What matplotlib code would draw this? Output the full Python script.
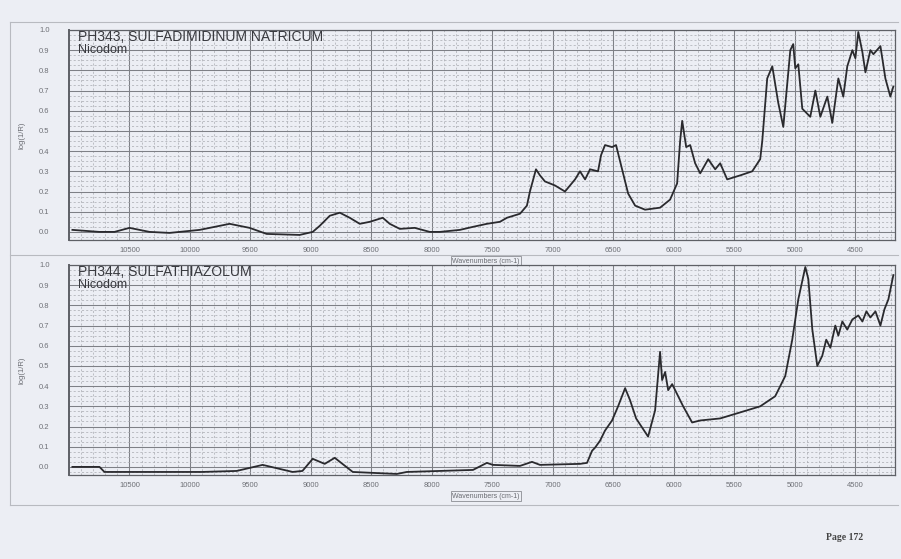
import matplotlib
matplotlib.use('Agg')
import matplotlib.pyplot as plt
from matplotlib.ticker import MultipleLocator

# Spektrum 1: PH343, Sulfadimidinum natricum (wavenumber cm-1, log(1/R))
wn_top = [10972, 10750, 10624, 10500, 10334, 10169, 9920, 9672, 9507, 9366,
          9093, 8985, 8927, 8844, 8761, 8679, 8596, 8513, 8406, 8348,
          8265, 8141, 8017, 7934, 7768, 7660, 7545, 7437, 7379, 7271,
          7214, 7189, 7139, 7106, 7065, 6982, 6899, 6816, 6775, 6733,
          6692, 6626, 6601, 6568, 6510, 6477, 6427, 6377, 6319, 6237,
          6113, 6030, 5972, 5947, 5930, 5897, 5864, 5823, 5781, 5715,
          5657, 5616, 5558, 5450, 5351, 5285, 5268, 5227, 5185, 5136,
          5094, 5036, 5012, 4995, 4970, 4937, 4871, 4829, 4788, 4730,
          4689, 4639, 4598, 4565, 4523, 4498, 4474, 4440, 4415, 4374,
          4349, 4291, 4250, 4209, 4184]
val_top = [0.01, 0.0, 0.0, 0.02, 0.0, -0.005, 0.01, 0.04, 0.02, -0.01,
           -0.015, 0.0, 0.03, 0.08, 0.095, 0.07, 0.04, 0.05, 0.07, 0.04,
           0.015, 0.02, 0.0, 0.0, 0.01, 0.025, 0.04, 0.05, 0.07, 0.09,
           0.13, 0.2, 0.31, 0.28, 0.25, 0.23, 0.2, 0.26, 0.3, 0.26,
           0.31, 0.3, 0.38, 0.43, 0.42, 0.43, 0.31, 0.19, 0.13, 0.11,
           0.12, 0.16, 0.24, 0.45, 0.55, 0.42, 0.43, 0.34, 0.29, 0.36,
           0.31, 0.34, 0.26, 0.28, 0.3, 0.36, 0.45, 0.76, 0.82, 0.64,
           0.52, 0.9, 0.93, 0.81, 0.83, 0.61, 0.57, 0.70, 0.57, 0.67,
           0.54, 0.76, 0.67, 0.82, 0.90, 0.86, 0.99, 0.89, 0.79, 0.90,
           0.88, 0.92, 0.76, 0.67, 0.72]

# Spektrum 2: PH344, Sulfathiazolum
wn_bot = [10972, 10748, 10707, 10300, 9900, 9614, 9399, 9151, 9070, 8985,
          8886, 8803, 8654, 8290, 8207, 7660, 7545, 7495, 7271, 7172,
          7106, 6775, 6717, 6675, 6651, 6609, 6568, 6510, 6460, 6402,
          6361, 6311, 6212, 6154, 6113, 6096, 6071, 6046, 6013, 5922,
          5848, 5781, 5616, 5450, 5285, 5161, 5078, 5020, 4970, 4912,
          4887, 4854, 4813, 4772, 4739, 4705, 4664, 4639, 4606, 4565,
          4523, 4474, 4440, 4407, 4374, 4332, 4291, 4258, 4225, 4184]
val_bot = [0.0, 0.0, -0.025, -0.025, -0.025, -0.02, 0.01, -0.025, -0.02, 0.04,
           0.015, 0.045, -0.025, -0.035, -0.025, -0.015, 0.02, 0.01, 0.005, 0.025,
           0.01, 0.015, 0.02, 0.08, 0.095, 0.13, 0.18, 0.23, 0.30, 0.39,
           0.33, 0.24, 0.15, 0.28, 0.57, 0.43, 0.47, 0.38, 0.41, 0.30,
           0.22, 0.23, 0.24, 0.27, 0.30, 0.35, 0.45, 0.63, 0.83, 0.99,
           0.93, 0.68, 0.50, 0.55, 0.63, 0.59, 0.70, 0.65, 0.72, 0.68,
           0.73, 0.75, 0.72, 0.77, 0.74, 0.77, 0.70, 0.78, 0.83, 0.95]

titles = ['PH343, SULFADIMIDINUM NATRICUM', 'PH344, SULFATHIAZOLUM']
source = 'Nicodom'
xticks = [10500, 10000, 9500, 9000, 8500, 8000, 7500, 7000, 6500, 6000, 5500, 5000, 4500]
yticks = [0.0, 0.1, 0.2, 0.3, 0.4, 0.5, 0.6, 0.7, 0.8, 0.9, 1.0]

paper = '#eceef4'
ink = '#2a2a2e'
plt.rcParams['font.family'] = ['Liberation Sans', 'DejaVu Sans']

fig = plt.figure(figsize=(9.01, 5.59), dpi=100, facecolor=paper)

def panel(rect, wn, val, title):
    ax = fig.add_axes(rect, facecolor=paper)
    ax.plot(wn, val, color=ink, lw=1.3, solid_joinstyle='round')
    ax.set_xlim(11000, 4170)
    ax.set_ylim(-0.04, 1.0)
    ax.set_xticks(xticks)
    ax.set_yticks(yticks)
    ax.set_yticklabels([f'{t:.1f}' for t in yticks])
    ax.xaxis.set_minor_locator(MultipleLocator(100))
    ax.yaxis.set_minor_locator(MultipleLocator(0.025))
    ax.grid(which='major', color='#7e8086', lw=0.75)
    ax.grid(which='minor', color='#a8aab0', lw=0.5, ls=(0, (3, 3)))
    ax.tick_params(which='both', length=0)
    ax.tick_params(axis='x', labelsize=5.5, colors='#6e7076', pad=5)
    ax.tick_params(axis='y', labelsize=5.5, colors='#6e7076', pad=14)
    for s in ax.spines.values():
        s.set_color('#5e6066')
        s.set_linewidth(0.9)
    ax.spines['left'].set_linewidth(1.4)
    ax.text(0.011, 1.0, title, transform=ax.transAxes, va='top', ha='left',
            fontsize=10, color='#38393e')
    ax.text(0.011, 0.935, source, transform=ax.transAxes, va='top', ha='left',
            fontsize=9, color='#38393e')
    ax.set_ylabel('log(1/R)', fontsize=5.5, color='#6a6c72', labelpad=10)
    ax.text(0.505, -0.085, 'Wavenumbers (cm-1)', transform=ax.transAxes,
            ha='center', va='top', fontsize=5, color='#6a6c72',
            bbox=dict(boxstyle='square,pad=0.2', fc=paper, ec='#8a8c92', lw=0.6))
    return ax

panel([0.0766, 0.5707, 0.9168, 0.3757], wn_top, val_top, titles[0])
panel([0.0766, 0.1503, 0.9168, 0.3757], wn_bot, val_bot, titles[1])

# Rahmen der Seite
for y in [22, 255, 505]:
    fig.add_artist(plt.Line2D([10 / 901, 898 / 901], [1 - y / 559] * 2,
                              color='#b8bac0', lw=0.8))
fig.add_artist(plt.Line2D([10 / 901] * 2, [1 - 22 / 559, 1 - 505 / 559],
                          color='#b8bac0', lw=0.8))

fig.text(845 / 901, 1 - 537 / 559, 'Page 172', family='Liberation Serif',
         fontweight='bold', fontsize=7, color='#444', ha='center', va='center')

plt.savefig('out.png', dpi=100, facecolor=paper)
